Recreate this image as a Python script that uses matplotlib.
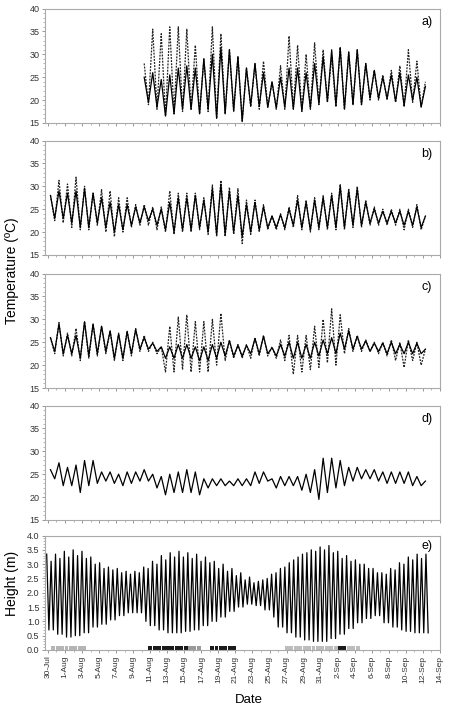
import numpy as np
import pandas as pd
import matplotlib
matplotlib.use("Agg")
import matplotlib.pyplot as plt
import matplotlib.dates as mdates
from matplotlib.ticker import MultipleLocator, FixedLocator, FuncFormatter

plt.rcParams["font.family"] = ["Liberation Sans", "DejaVu Sans"]

nan = np.nan
START = "2007-07-30"
N_DAYS = 45          # 30-Jul .. 13-Sep, one daily max and min per series
TIDE_PERIOD = 12.42 / 24.0

# ---- panel a (logger starts 10-Aug) ----
a_solid_max = [nan] * 11 + [25, 26, 24.5, 25.5, 27, 27.5, 27, 29, 30, 31.5, 31, 29.5, 27, 28, 26, 24, 25,
                            27, 27, 26, 28, 29.5, 31, 31.5, 30.5, 31, 28, 26.5, 25, 25.5, 26, 25.5, 25, 23]
a_solid_min = [nan] * 11 + [19.5, 18.5, 16.5, 17, 18, 18, 17, 18, 16, 17, 17.7, 15.3, 18.8, 18.6, 18.4, 18.3,
                            18.5, 18.1, 17.7, 18.3, 19.2, 19.7, 18.8, 18, 19, 19, 20.4, 20.4, 20.4, 19.7,
                            18.8, 20, 18.5, nan]
a_dash_max = [nan] * 11 + [28, 35.5, 34.5, 36, 36, 35.5, 32, 29, 36, 34.5, 31, 29.5, 27, 28, 28.5, 24, 27.5,
                           34, 32, 30, 32.5, 31, 29.5, 31.5, 30.5, 31, 28, 26.5, 25.5, 26.5, 27.5, 31, 28.5, 24]
a_dash_min = [nan] * 11 + [19, 18, 16.5, 17, 17.5, 18, 17, 17.5, 16, 17, 17.5, 15.5, 18.5, 18, 18.5, 18, 18,
                           18, 17.5, 18, 19, 19.5, 18.5, 18, 19, 19, 20, 20, 20, 19.5, 18.5, 19.5, 18.5, nan]

# ---- panel b ----
b_solid_max = [28, 29, 28.5, 29, 29.5, 28.5, 27.5, 26.5, 26, 26, 25.5, 25.5, 25, 25, 26.5, 27.5, 27.5, 28,
               27, 29.5, 30.5, 29, 28, 26, 26.5, 25.5, 23.5, 23.8, 25, 27, 26.5, 27, 27.5, 28, 30, 29, 29.5,
               26.5, 25, 24.5, 24.5, 24.5, 24.5, 25.5, 23.5]
b_solid_min = [23, 23, 22, 21, 21, 22, 21, 20, 20.5, 21.5, 22, 22.5, 21.5, 20.5, 20, 20.5, 20.5, 21, 20,
               19.5, 19.5, 20, 19, 20, 20.5, 21, 21, 21, 21.5, 21, 20.5, 21, 21, 21, 21, 21.5, 21.5, 22, 22,
               22, 22, 21.5, 21.5, 21, nan]
b_dash_max = [28, 31.3, 30.5, 32, 30, 28.5, 29.3, 29, 27.5, 27.5, 26, 26, 25.5, 25.5, 29, 28.5, 28.5, 28.5,
              27.5, 30.3, 31.3, 29.8, 29.5, 27, 27, 26, 23.5, 24, 25.5, 28, 27, 27.5, 28, 28.5, 30.5, 29.5,
              30, 27, 25.5, 25, 25, 25, 25, 26, 23.5]
b_dash_min = [22.5, 22, 21, 20.5, 20.5, 21.5, 20, 19, 20, 21, 21.5, 21.5, 20.5, 20, 19.5, 20, 20, 20.5,
              19.5, 19, 19, 19.5, 17.5, 19.5, 20, 20.5, 20.5, 20.5, 21, 20.5, 20, 20.5, 20.5, 20.5, 20.5,
              21, 21, 21.5, 21.5, 21.5, 21.5, 20.5, 21, 20.5, nan]

# ---- panel c ----
c_solid_max = [26, 29, 26.5, 26.5, 29.5, 29, 28.5, 27.5, 26.8, 27.3, 27.8, 26, 24.8, 24, 24, 24.5, 24.5,
               24, 24, 24.5, 25, 25.3, 24.3, 24.3, 25.8, 26.3, 23.8, 24.5, 25, 25, 24.5, 25, 25.5, 26, 27,
               27.5, 26.3, 25.3, 24.8, 24.8, 25, 24.5, 25, 24.8, 23.5]
c_solid_min = [23, 22.5, 22.5, 21.5, 22, 22.5, 23, 21.5, 21.5, 22.5, 23.5, 23.5, 23, 21.5, 21.5, 21.5,
               21.5, 21, 21, 21.5, 22, 22, 22, 22.5, 22.5, 22.5, 22, 22, 21.5, 21.5, 21.5, 22, 22.5, 22.5,
               23.5, 23.5, 23.5, 23, 23, 22.5, 22.5, 22.5, 22.5, 22.5, nan]
c_dash_max = [26, 29.3, 27, 28, 29.5, 29, 28.5, 27.5, 27, 27.5, 28, 26.5, 25, 24, 28.5, 30.5, 31, 29.5,
              29.5, 30, 31.3, 25.5, 24.5, 24.5, 26, 26.5, 24, 25.5, 26.5, 26.5, 26.5, 28.5, 30, 32.3, 31,
              28, 26.5, 25.5, 25, 25, 25.5, 25, 25.5, 25, 23.5]
c_dash_min = [22.5, 22, 22, 21, 21.5, 22, 22.5, 21, 21, 22, 23, 23, 22.5, 18.5, 18.5, 19, 18.5, 18.5,
              18.5, 20, 21, 21.5, 21.5, 21.5, 22, 22, 21.5, 21, 18, 18.5, 19, 19.5, 20.5, 20, 22.5, 23, 23,
              23, 22.5, 22, 21, 19.5, 21, 20, nan]

# ---- panel d ----
d_max = [26, 27.5, 26.5, 27, 28, 28, 25.5, 25.5, 25, 25.5, 25.5, 26, 25, 24.5, 25, 25.5, 26, 25.5, 24, 24,
         24, 23.5, 24, 24, 25.5, 25.5, 24, 24.5, 24.5, 24.5, 25, 26, 28.5, 28.5, 28, 26.5, 26.5, 26, 26,
         25.5, 25.5, 25.5, 25.5, 24.5, 23.5]
d_min = [24, 22.5, 22.5, 21, 22.5, 23, 23.5, 23, 22.5, 23, 23.5, 23.5, 22, 20.5, 21, 21, 21, 20.5, 22,
         22.5, 22.5, 22.5, 22.5, 22.5, 23, 23.5, 22, 22.5, 22.5, 21.5, 21, 19.5, 21, 22, 22.5, 23.5, 24,
         24, 23.5, 23, 23, 23, 22.5, 22.5, nan]

# ---- panel e: tide height (m), daily envelope ----
tide_high_a = [3.35, 3.45, 3.5, 3.45, 3.35, 3.25, 3.05, 2.9, 2.85, 2.75, 2.75, 2.9, 3.1, 3.3, 3.4, 3.45,
               3.4, 3.35, 3.25, 3.1, 3.0, 2.85, 2.7, 2.55, 2.4, 2.5, 2.7, 2.9, 3.15, 3.35, 3.5, 3.6, 3.65,
               3.6, 3.45, 3.3, 3.15, 3.0, 2.85, 2.7, 2.85, 3.05, 3.25, 3.35, 3.35]
tide_high_b = [3.1, 3.2, 3.25, 3.3, 3.2, 3.0, 2.85, 2.8, 2.7, 2.65, 2.7, 2.85, 3.0, 3.15, 3.25, 3.25, 3.2,
               3.1, 3.05, 2.95, 2.85, 2.75, 2.6, 2.45, 2.35, 2.45, 2.65, 2.85, 3.05, 3.25, 3.4, 3.45, 3.5,
               3.4, 3.2, 3.1, 3.0, 2.85, 2.7, 2.65, 2.8, 3.0, 3.15, 3.2, 3.25]
tide_low = [0.7, 0.55, 0.45, 0.5, 0.6, 0.8, 0.9, 1.05, 1.2, 1.3, 1.3, 1.0, 0.85, 0.7, 0.6, 0.6, 0.65, 0.7,
            0.85, 1.0, 1.15, 1.35, 1.5, 1.6, 1.55, 1.4, 1.15, 0.8, 0.6, 0.45, 0.35, 0.3, 0.3, 0.4, 0.55,
            0.75, 0.95, 1.1, 1.2, 0.95, 0.8, 0.7, 0.65, 0.6, 0.6]

# emersion periods marked on the bottom strip (day offsets from 30-Jul)
exp_start = [0.6, 11.8, 16.3, 18.9, 27.8, 33.9, 35.1]
exp_end = [4.7, 16.3, 17.8, 21.9, 33.9, 35.1, 36.8]
exp_color = ["#b5b5b5", "#1a1a1a", "#9a9a9a", "#1a1a1a", "#bdbdbd", "#1a1a1a", "#bdbdbd"]

t0 = mdates.date2num(pd.Timestamp(START))
days = pd.date_range(START, periods=N_DAYS, freq="D")
t_peak = mdates.date2num(days + pd.Timedelta(hours=7))
t_trough = mdates.date2num(days + pd.Timedelta(hours=19))


def daily_trace(peaks, lows):
    t = np.empty(2 * N_DAYS)
    v = np.empty(2 * N_DAYS)
    t[0::2], t[1::2] = t_peak, t_trough
    v[0::2], v[1::2] = peaks, lows
    ok = ~np.isnan(v)
    return t[ok], v[ok]


fig = plt.figure(figsize=(4.49, 7.13), dpi=100)
left, width, height = 0.1002, 0.8797, 0.1605
bottoms = [0.8275, 0.6424, 0.4558, 0.2707, 0.0884]
axes = [fig.add_axes([left, b, width, height]) for b in bottoms]

temp_panels = [
    ("a)", a_solid_max, a_solid_min, a_dash_max, a_dash_min),
    ("b)", b_solid_max, b_solid_min, b_dash_max, b_dash_min),
    ("c)", c_solid_max, c_solid_min, c_dash_max, c_dash_min),
    ("d)", d_max, d_min, None, None),
]

for ax, (lab, smax, smin, dmax, dmin) in zip(axes[:4], temp_panels):
    if dmax is not None:
        t, v = daily_trace(dmax, dmin)
        ax.plot(t, v, color="#222222", lw=0.9, ls=(0, (1.5, 1.0)))
    t, v = daily_trace(smax, smin)
    ax.plot(t, v, color="black", lw=0.9)
    ax.set_ylim(15, 40)
    ax.yaxis.set_major_locator(MultipleLocator(5))
    ax.yaxis.set_minor_locator(MultipleLocator(1))
    ax.text(0.967, 0.88, lab, transform=ax.transAxes, ha="center", va="center", fontsize=9)

# tide trace: alternating high / low waters
ax = axes[4]
tide_x = np.arange(-0.15, 44.7, TIDE_PERIOD / 2)
tide_y = []
for i, x in enumerate(tide_x):
    d = int(np.clip(np.floor(x), 0, N_DAYS - 1))
    if i % 2 == 0:
        tide_y.append(tide_high_a[d] if (i // 2) % 2 == 0 else tide_high_b[d])
    else:
        tide_y.append(tide_low[d])
ax.plot(t0 + tide_x, tide_y, color="black", lw=0.9)

lows_x = tide_x[1::2]
for s, e, c in zip(exp_start, exp_end, exp_color):
    sel = lows_x[(lows_x >= s) & (lows_x < e)]
    ax.bar(t0 + sel, 0.15, width=0.46, bottom=0, color=c, lw=0)

ax.set_ylim(0, 4)
ax.yaxis.set_major_locator(MultipleLocator(0.5))
ax.yaxis.set_major_formatter(FuncFormatter(lambda v, p: f"{v:.1f}"))
ax.yaxis.set_minor_locator(MultipleLocator(0.1))
ax.text(0.967, 0.91, "e)", transform=ax.transAxes, ha="center", va="center", fontsize=9)

major_days = mdates.date2num(pd.date_range(START, periods=24, freq="2D"))
minor_days = mdates.date2num(pd.date_range(START, periods=47, freq="D"))
for i, ax in enumerate(axes):
    ax.set_xlim(t0 - 0.35, t0 + 46.0)
    ax.xaxis.set_major_locator(FixedLocator(major_days))
    ax.xaxis.set_minor_locator(FixedLocator(minor_days))
    for sp in ax.spines.values():
        sp.set_color("#aaaaaa")
        sp.set_linewidth(0.8)
    ax.tick_params(which="major", length=2.5, width=0.6, color="#888888",
                   labelsize=6.5, labelcolor="#333333", pad=1.5)
    ax.tick_params(which="minor", length=1.5, width=0.5, color="#999999")
    if i < 4:
        ax.set_xticklabels([])
    else:
        ax.xaxis.set_major_formatter(
            FuncFormatter(lambda v, p: f"{mdates.num2date(v).day}-{mdates.num2date(v):%b}"))
        ax.tick_params(axis="x", labelrotation=90, labelsize=6)

fig.text(0.027, 0.62, "Temperature (\u00baC)", rotation=90, ha="center", va="center", fontsize=10)
fig.text(0.027, 0.182, "Height (m)", rotation=90, ha="center", va="center", fontsize=10)
fig.text(0.555, 0.018, "Date", ha="center", va="center", fontsize=9.5)

fig.savefig("out.png", dpi=100)
